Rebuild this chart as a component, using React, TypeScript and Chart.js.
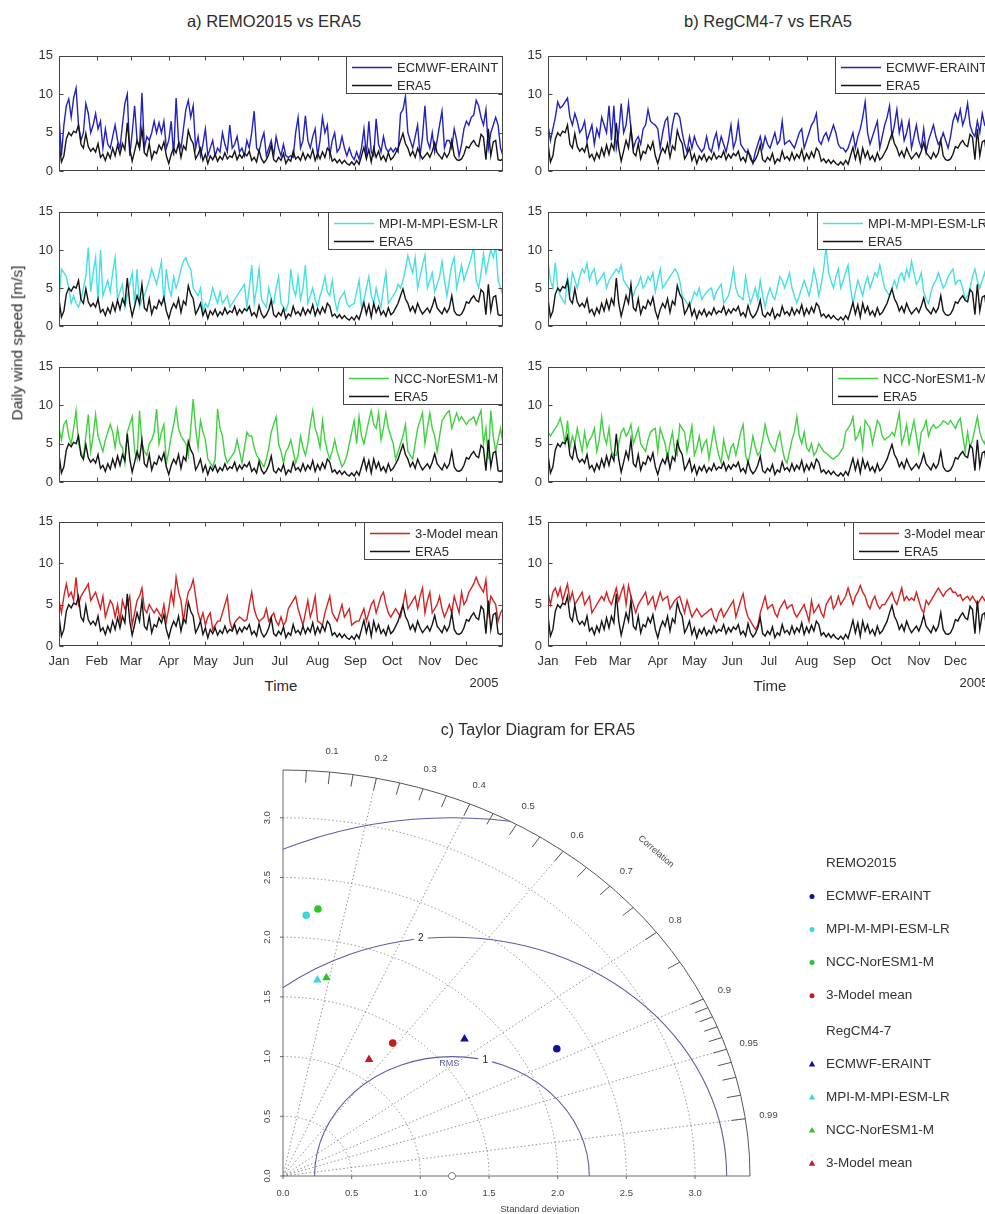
import React, { useEffect, useRef } from "react";
import { Chart, registerables } from "chart.js";

Chart.register(...registerables);

const FONT = '"Liberation Sans", Arial, Helvetica, sans-serif';

// ---- time axis (2005) ----
const MONTHS = ["Jan", "Feb", "Mar", "Apr", "May", "Jun", "Jul", "Aug", "Sep", "Oct", "Nov", "Dec"];
const MONTH_START_DAY = [0, 31, 59, 90, 120, 151, 181, 212, 243, 273, 304, 334];
const YEAR_LABEL = "2005";
const DAY_STEP = 2; // one value every second day of the year
const WIND_TICKS = [0, 5, 10, 15];

// ---- daily wind speed [m/s] ----
const ERA5 = [
  3.6, 1.2, 2.0, 4.2, 5.0, 4.6, 5.2, 5.0, 6.0, 3.5,
  3.0, 4.9, 3.2, 2.6, 3.0, 2.5, 3.6, 1.8, 2.2, 1.4,
  2.4, 1.7, 3.0, 2.0, 3.4, 2.2, 3.6, 2.8, 6.3, 3.0,
  1.3, 2.6, 4.0, 3.0, 5.5, 2.4, 2.0, 3.6, 1.6, 2.6,
  2.3, 3.4, 2.8, 3.8, 2.0, 1.0, 2.2, 3.0, 2.4, 3.6,
  1.8, 3.3, 2.8, 5.3, 4.2, 3.6, 1.6, 2.2, 3.0, 1.4,
  2.2, 1.0, 2.0, 1.5, 2.2, 1.3, 1.9, 1.5, 2.4, 1.6,
  2.0, 1.8, 2.6, 1.5, 2.2, 1.7, 2.3, 2.0, 2.6, 1.4,
  1.8, 1.2, 2.7, 1.6, 1.1, 1.5, 2.2, 3.4, 1.5, 1.2,
  1.8, 1.4, 2.3, 1.0, 1.6, 1.3, 2.6, 1.6, 1.9, 1.4,
  2.4, 1.5, 2.2, 1.7, 2.8, 1.4, 2.3, 1.6, 2.5, 1.8,
  3.0, 2.6, 1.3, 1.6, 1.1, 1.5, 1.0, 1.4, 1.0, 0.8,
  1.2, 0.8, 1.4, 0.9, 2.0, 3.1, 1.6, 2.8, 1.2, 3.0,
  1.8, 2.6, 1.5, 2.0, 1.3, 2.4, 1.5, 1.8, 2.4, 3.0,
  4.0, 4.9, 3.6, 3.0, 2.0, 2.6, 1.8, 3.0, 2.2, 1.6,
  2.0, 2.4, 1.8, 2.6, 3.7, 2.4, 2.0, 1.6, 2.4, 1.8,
  2.4, 4.0, 2.0, 1.5, 1.4, 1.6, 2.2, 3.2, 3.0, 3.6,
  4.0, 3.4, 3.2, 4.8, 4.4, 1.5, 5.5, 2.0, 3.8, 4.0,
  1.5, 1.4, 1.6,
];

const REMO_ECMWF = [
  7.2, 2.0, 6.0, 8.5, 9.4, 7.0, 9.5, 10.8, 6.0, 4.0,
  5.0, 8.8, 7.5, 5.0, 6.0, 7.5, 5.5, 6.5, 3.0, 5.5,
  3.5, 3.0, 4.5, 6.0, 4.0, 3.0, 6.0, 8.8, 10.0, 2.0,
  5.0, 8.5, 4.0, 3.0, 10.2, 3.0, 4.5, 4.0, 5.0, 6.5,
  5.0, 6.3, 5.0, 6.5, 3.0, 4.0, 6.5, 2.0, 9.5, 4.0,
  3.0, 5.5, 8.0, 9.2, 7.0, 8.5, 3.0, 4.5, 2.0, 3.5,
  5.5, 2.0, 3.0, 4.0, 2.0, 3.0, 2.5, 5.0, 3.5, 2.5,
  6.0, 3.0, 3.5, 4.5, 2.5, 3.0, 2.0, 4.0, 3.0, 5.0,
  7.8, 3.0, 2.5, 4.0, 5.0, 2.0, 3.0, 4.0, 2.0, 4.5,
  3.0, 2.0, 3.5, 2.0, 1.8, 2.0, 1.8, 5.0, 7.0, 3.0,
  4.0, 7.2, 4.0, 3.0, 4.5, 5.5, 2.0, 4.0, 7.0, 5.0,
  6.0, 2.0, 4.0, 5.0, 2.5, 3.0, 4.5, 3.0, 2.0, 3.0,
  2.0, 1.5, 2.5, 1.6, 3.0, 5.5, 2.0, 6.5, 2.5, 2.0,
  6.8, 3.5, 2.5, 4.5, 3.0, 2.5, 3.0, 2.5, 3.0, 2.5,
  7.5, 8.0, 9.7, 5.0, 4.0, 3.0, 4.5, 6.0, 2.0, 4.5,
  8.5, 4.0, 3.0, 5.0, 2.5, 4.0, 6.0, 7.8, 3.0, 4.0,
  4.0, 3.0, 5.5, 4.0, 2.0, 3.5, 5.5, 6.5, 6.0, 7.0,
  7.3, 9.2, 8.5, 7.0, 6.0, 8.0, 3.0, 5.0, 6.0, 7.0,
  6.0, 3.0, 2.0,
];

const REMO_MPI = [
  3.5, 7.5, 7.0, 6.5, 5.0, 3.0, 4.0, 3.0, 2.5, 3.5,
  5.0, 6.5, 10.3, 4.5, 7.0, 9.0, 3.0, 10.0, 4.0, 5.0,
  6.0, 4.5, 7.0, 9.0, 3.5, 4.5, 5.5, 2.5, 4.0, 5.5,
  7.0, 3.0, 7.5, 2.5, 3.5, 4.0, 5.0, 6.0, 7.5, 6.5,
  5.5, 7.0, 8.5, 3.0, 7.5, 5.0, 4.0, 6.5, 5.0, 6.0,
  7.5, 8.5, 9.0, 8.0, 7.5, 5.0, 4.5, 4.0, 5.0, 2.0,
  3.0, 2.5, 3.5, 5.0, 4.0, 3.0, 4.5, 3.0, 3.5, 4.0,
  2.5, 3.0, 3.5, 4.0, 4.5, 5.0, 5.5, 2.5, 5.0, 8.0,
  3.0, 5.0, 7.5, 3.5, 3.0, 2.5, 5.0, 3.5, 3.0, 5.0,
  6.5, 3.0, 2.5, 2.0, 3.0, 7.5, 5.0, 4.0, 6.5, 3.5,
  5.0, 8.0, 3.0, 4.0, 5.0, 3.5, 2.5, 4.0, 5.0, 6.5,
  4.5, 4.0, 6.0, 3.5, 2.0, 3.5, 4.0, 4.5, 3.0, 2.5,
  2.8, 3.0, 4.5, 6.0, 2.5, 3.5, 5.0, 6.5, 4.0, 3.0,
  5.0, 3.5, 2.5, 5.0, 7.0, 3.0, 3.5, 4.0, 4.5, 5.5,
  5.0, 6.0, 7.5, 9.3, 8.0, 7.0, 9.0, 5.0, 6.5, 8.0,
  9.3, 5.0, 6.0, 7.0, 4.5, 5.5, 6.5, 8.5, 6.0, 4.0,
  6.0, 8.0, 9.0, 5.0, 6.5, 8.0, 6.0, 7.0, 8.0, 9.0,
  10.5, 6.0, 5.0, 7.0, 9.5, 7.0, 8.5, 10.0, 9.0, 10.5,
  6.0, 5.0, 4.0,
];

const REMO_NCC = [
  7.0, 5.5, 7.5, 8.0, 6.0, 5.0, 7.0, 9.3, 5.0, 4.0,
  3.0, 6.0, 8.8, 4.0, 6.0, 8.8, 6.0, 5.0, 4.0, 5.5,
  6.5, 7.5, 6.5, 4.5, 7.0, 5.0, 4.5, 2.5, 6.5, 7.5,
  8.5, 4.0, 3.0, 9.3, 5.0, 4.0, 3.5, 5.0, 5.5, 6.5,
  9.5, 5.0, 6.5, 7.5, 2.5, 4.0, 6.0, 7.5, 9.5, 7.0,
  6.0, 5.5, 5.0, 3.5, 7.0, 10.8, 7.0, 4.5, 8.0, 6.5,
  5.5, 3.0, 2.5, 2.0, 3.0, 9.5, 7.0, 6.0, 3.5, 2.5,
  3.0, 3.5, 4.0, 5.5, 4.0, 2.5, 4.5, 6.5, 6.0, 6.0,
  4.5, 3.5, 3.0, 2.5, 2.0, 3.0, 4.5, 6.5, 7.5, 8.5,
  5.0, 4.0, 2.5, 4.0, 4.5, 5.5, 4.0, 2.5, 3.5, 6.0,
  4.5, 3.5, 5.0, 7.5, 9.3, 7.0, 6.0, 4.5, 8.0, 5.5,
  4.0, 3.0, 4.0, 5.5, 4.0, 3.0, 2.0, 2.5, 3.5, 5.0,
  6.5, 8.0, 5.0, 8.5, 6.0, 5.0, 6.5, 8.0, 9.3, 7.5,
  7.0, 9.0, 5.5, 7.0, 9.0, 7.0, 6.0, 5.0, 3.0, 4.0,
  5.0, 6.0, 7.5, 4.0, 3.5, 3.0, 5.0, 7.0, 8.0, 9.0,
  5.0, 7.0, 9.0, 7.0, 6.0, 4.0, 6.0, 8.0, 8.5, 9.0,
  9.3, 7.0, 8.0, 9.0, 8.0, 8.5, 8.0, 7.5, 8.0, 8.2,
  8.5, 7.5, 8.5, 9.3, 5.0, 7.0, 3.0, 9.3, 6.0, 4.0,
  5.5, 7.0, 5.0,
];

const REMO_MEAN = [
  5.5, 4.0, 6.0, 7.5, 6.0, 6.5, 5.5, 8.3, 5.0, 6.0,
  6.5, 7.0, 7.5, 5.5, 6.0, 6.5, 5.5, 4.5, 6.0, 3.5,
  4.5, 5.5, 5.0, 3.5, 5.0, 3.0, 5.5, 4.5, 5.0, 6.0,
  2.5, 4.0, 5.5, 6.0, 7.0, 4.5, 4.0, 5.0, 4.5, 4.0,
  4.5, 4.0, 3.5, 5.0, 3.0, 4.5, 6.5, 5.0, 8.3, 6.5,
  5.5, 3.0, 5.0, 6.5, 7.0, 8.0, 6.0, 4.0, 3.0, 4.0,
  2.5, 3.5, 4.0, 2.0, 2.5, 3.0, 3.0, 4.0, 5.0, 6.0,
  3.0, 2.0, 2.8, 3.2, 3.5, 3.3, 3.0, 3.2, 5.0, 6.5,
  4.5, 3.5, 3.0, 3.2, 3.5, 4.5, 3.0, 3.5, 4.0, 3.0,
  2.5, 3.5, 2.5, 3.0, 4.5, 5.0, 5.5, 6.0, 4.5, 3.5,
  2.5, 4.0, 5.5, 3.5, 4.5, 6.0, 3.0, 2.8, 2.5, 4.0,
  5.0, 6.0, 4.0, 3.5, 3.0, 4.0, 5.0, 3.5, 4.0, 4.5,
  2.5, 2.8, 3.0, 3.0, 3.8, 4.5, 3.0, 4.0, 5.0, 5.5,
  4.0, 5.0, 6.0, 6.5, 5.0, 4.0, 3.5, 4.0, 4.5, 4.0,
  3.5, 5.0, 6.5, 4.5, 5.0, 5.5, 6.0, 4.5, 6.0, 7.0,
  4.0, 5.5, 6.5, 4.0, 4.5, 5.0, 6.0, 4.5, 3.5, 4.2,
  5.0, 4.0, 6.0, 5.0, 4.0, 6.5, 5.0, 5.5, 6.5, 7.0,
  7.5, 8.3, 7.5, 7.0, 6.5, 8.0, 4.0, 6.0, 5.5, 5.0,
  3.0, 4.0, 4.5,
];

const REGCM_ECMWF = [
  6.0, 4.0, 5.5, 7.0, 9.0, 8.2, 8.5, 9.0, 9.5, 7.0,
  6.0, 7.5, 6.5, 5.0, 5.5, 6.5, 4.0, 5.0, 6.0, 3.5,
  5.5, 4.5, 7.0, 6.0, 5.0, 8.5, 4.0, 8.5, 3.0, 5.0,
  8.8, 5.0, 6.0, 8.8, 5.5, 3.0, 4.0, 4.5, 3.5, 5.5,
  6.0, 8.0, 6.5, 6.2, 6.0, 5.5, 3.0, 5.0, 6.5, 7.0,
  3.5, 6.0, 7.5, 7.5, 7.0, 5.0, 3.5, 2.5, 4.5, 3.0,
  4.5, 3.5, 3.0, 2.5, 3.0, 4.5, 3.0, 2.5, 4.0, 5.0,
  3.0, 4.5, 3.5, 2.5, 4.0, 6.0, 3.0, 4.0, 6.3, 3.5,
  3.0, 2.5, 2.5, 2.0, 1.0, 2.5, 3.5, 4.5, 3.0, 4.5,
  3.5, 3.0, 4.0, 5.0, 3.5, 4.0, 6.5, 3.5, 3.8, 4.0,
  3.5, 3.0, 4.0, 5.0, 5.5, 3.0, 4.0, 5.0, 6.0, 6.5,
  7.5, 4.0, 3.5, 4.5, 5.0, 4.0, 5.0, 6.0, 5.0, 3.5,
  3.0, 3.0, 2.5, 3.0, 4.0, 5.0, 3.0, 4.5, 5.5, 7.0,
  9.0, 5.0, 3.5, 4.5, 5.5, 6.5, 3.0, 4.5, 6.0, 7.0,
  8.5, 4.5, 6.0, 8.0, 5.0, 6.5, 4.0, 5.0, 6.5, 3.0,
  4.5, 6.0, 4.0, 3.0, 5.5, 2.5, 4.0, 5.0, 6.0, 4.5,
  3.5, 4.0, 5.0, 4.0, 3.0, 4.5, 6.5, 7.5, 6.5, 8.0,
  6.0, 7.0, 8.8, 6.0, 5.0, 4.5, 6.5, 5.0, 7.5, 6.0,
  5.5, 7.0, 6.5,
];

const REGCM_MPI = [
  8.5, 6.0, 5.0, 8.3, 5.0, 4.0, 3.5, 3.0, 6.5, 4.5,
  7.0, 6.0, 5.0, 6.5, 7.5, 7.0, 8.2, 6.0, 7.0, 7.5,
  5.5, 6.0, 6.5, 7.0, 5.0, 6.0, 6.5, 7.0, 7.5, 7.0,
  8.0, 6.0, 5.5, 5.0, 4.5, 4.0, 5.0, 5.5, 6.5, 5.0,
  5.5, 6.5, 6.0, 7.0, 4.5, 6.0, 7.5, 5.0, 5.5, 6.0,
  6.5, 7.0, 7.5, 7.0, 6.0, 4.0, 3.5, 3.0, 2.5, 3.5,
  4.5, 4.0, 5.0, 3.5, 4.0, 4.5, 4.8, 5.0, 3.5, 4.5,
  5.0, 5.5, 3.0, 3.5, 4.0, 5.5, 7.5, 5.0, 4.0, 3.8,
  3.5, 6.5, 4.5, 3.0, 4.0, 5.0, 3.5, 6.0, 4.0, 2.5,
  4.0, 5.0, 4.0, 3.5, 5.0, 6.5, 6.0, 5.0, 6.0, 7.0,
  5.0, 4.0, 3.0, 4.0, 5.0, 6.0, 5.0, 4.0, 5.5, 7.5,
  6.0, 4.0, 5.5, 7.5, 10.5, 7.0, 6.0, 5.0, 6.5, 7.5,
  5.0, 6.0, 7.0, 8.0, 5.0, 3.0, 4.5, 6.0, 5.0, 4.0,
  5.5, 6.5, 5.0, 6.0, 7.0, 6.5, 8.0, 6.5, 5.0, 4.5,
  4.0, 5.0, 6.0, 5.0, 6.5, 7.0, 6.0, 7.5, 6.5, 8.5,
  7.0, 5.5, 6.0, 7.0, 4.5, 3.5, 3.0, 4.5, 5.5, 6.0,
  7.0, 6.0, 5.0, 5.5, 6.5, 7.0, 7.5, 5.5, 6.0, 6.0,
  5.0, 3.5, 4.0, 5.0, 6.5, 7.5, 6.0, 5.0, 6.0, 7.0,
  5.5, 4.5, 5.0,
];

const REGCM_NCC = [
  6.5, 6.0, 6.5, 7.0, 7.5, 8.3, 7.0, 5.0, 8.0, 4.5,
  6.0, 5.0, 7.0, 5.5, 4.0, 6.5, 4.5, 5.5, 6.0, 7.0,
  4.0, 5.5, 8.5, 6.0, 5.0, 7.0, 4.0, 3.5, 3.5, 5.0,
  6.5, 7.0, 6.0, 6.5, 7.5, 5.0, 6.0, 7.0, 5.0, 4.5,
  4.0, 5.5, 6.5, 6.8, 7.0, 4.0, 7.0, 6.0, 5.0, 3.0,
  5.0, 6.5, 4.0, 3.5, 7.5, 7.0, 6.5, 4.0, 5.5, 7.3,
  3.5, 4.5, 6.0, 4.0, 5.0, 5.5, 3.0, 5.0, 7.0, 5.0,
  3.5, 2.5, 5.5, 4.0, 3.0, 4.5, 5.0, 3.5, 5.0, 6.5,
  7.5, 3.5, 2.5, 4.0, 6.0, 4.5, 3.5, 4.0, 5.5, 7.5,
  6.0, 5.0, 4.5, 4.0, 5.5, 6.5, 4.5, 3.0, 2.5, 4.0,
  5.5, 6.5, 8.5, 6.0, 5.0, 6.5, 4.5, 4.0, 5.0, 3.5,
  4.0, 5.0, 4.5, 4.0, 3.8, 3.5, 3.2, 3.0, 3.3, 3.5,
  4.0, 4.5, 6.5, 7.0, 7.5, 8.5, 5.5, 6.0, 7.0, 4.5,
  8.0, 7.5, 7.0, 5.0, 6.5, 8.0, 7.5, 6.0, 5.5, 5.8,
  6.0, 6.5, 6.0, 7.5, 9.0, 5.0, 6.0, 7.5, 5.0, 6.5,
  8.0, 6.0, 4.0, 6.5, 7.0, 8.0, 6.0, 7.0, 7.5, 7.0,
  7.2, 7.5, 8.0, 7.8, 7.5, 8.0, 7.5, 7.0, 7.8, 8.3,
  6.0, 4.0, 6.5, 4.5, 5.5, 7.0, 8.5, 6.5, 5.5, 5.0,
  6.5, 7.0, 6.5,
];

const REGCM_MEAN = [
  6.5, 5.0, 6.5, 7.0, 6.0, 7.0, 5.5, 6.5, 7.5, 5.5,
  6.5, 5.0, 5.5, 6.0, 6.5, 5.0, 5.5, 6.0, 4.0, 4.5,
  5.0, 5.5, 6.0, 5.5, 6.5, 5.5, 5.0, 6.0, 7.0, 5.5,
  6.5, 7.3, 5.0, 7.3, 6.0, 5.0, 4.0, 5.0, 5.5, 6.0,
  6.5, 5.0, 5.5, 6.0, 4.5, 5.5, 6.5, 5.5, 5.8, 6.0,
  4.5, 5.0, 5.5, 5.8, 6.0, 5.0, 4.0, 5.5, 4.5, 3.5,
  4.0, 4.5, 4.0, 3.5, 3.8, 4.0, 4.3, 4.5, 3.5, 3.0,
  4.0, 4.5, 3.5, 4.0, 4.5, 5.0, 5.5, 3.5, 4.5, 5.5,
  6.3, 4.5, 3.5, 3.0, 2.5, 2.0, 2.5, 4.0, 5.0, 6.0,
  4.5, 4.8, 5.0, 4.0, 3.5, 4.5, 5.0, 5.5, 4.5, 4.8,
  5.0, 4.0, 3.5, 4.0, 4.5, 5.0, 4.0, 3.0, 5.5, 4.0,
  4.5, 5.0, 4.0, 3.5, 5.0, 5.5, 6.0, 4.5, 5.0, 6.0,
  5.0, 5.5, 6.0, 7.0, 6.0, 5.0, 6.0, 6.5, 7.3, 6.5,
  6.0, 5.0, 4.5, 5.5, 6.0, 5.0, 4.5, 5.0, 5.0, 5.5,
  6.0, 6.5, 5.5, 5.0, 6.0, 7.0, 5.5, 6.0, 5.5, 5.8,
  5.5, 6.5, 5.5, 4.5, 4.0, 5.5, 5.0, 5.5, 6.0, 6.5,
  7.0, 6.5, 6.0, 6.5, 6.8, 7.0, 6.5, 6.5, 6.0, 6.2,
  5.5, 5.8, 6.0, 5.5, 6.0, 5.5, 5.0, 5.5, 6.0, 5.5,
  6.0, 5.5, 5.0,
];

// ---- model names / groups ----
const RCM_NAMES = ["REMO2015", "RegCM4-7"];
const REFERENCE_NAME = "ERA5";
const MODEL_NAMES = ["ECMWF-ERAINT", "MPI-M-MPI-ESM-LR", "NCC-NorESM1-M", "3-Model mean"];
const REMO_SERIES = [REMO_ECMWF, REMO_MPI, REMO_NCC, REMO_MEAN];
const REGCM_SERIES = [REGCM_ECMWF, REGCM_MPI, REGCM_NCC, REGCM_MEAN];

// ---- Taylor statistics (standard deviation [m/s], correlation with ERA5) ----
const REF_SD = 1.23;
const REMO_SD = [2.26, 2.19, 2.25, 1.37];
const REMO_CORR = [0.882, 0.077, 0.113, 0.583];
const REGCM_SD = [1.75, 1.66, 1.69, 1.16];
const REGCM_CORR = [0.755, 0.151, 0.187, 0.54];
const SD_MAX = 3.4;
const SD_ARCS = [0.5, 1, 1.5, 2, 2.5, 3];
const SD_TICKS = [0, 0.5, 1, 1.5, 2, 2.5, 3];
const RMS_ARCS = [1, 2, 3];
const CORR_RAYS = [0.2, 0.4, 0.6, 0.8, 0.9, 0.95, 0.99];
const CORR_LABELS = [0.1, 0.2, 0.3, 0.4, 0.5, 0.6, 0.7, 0.8, 0.9, 0.95, 0.99];
const CORR_TICKS = [
  0.05, 0.1, 0.15, 0.2, 0.25, 0.3, 0.35, 0.4, 0.45, 0.5, 0.55, 0.6, 0.65, 0.7,
  0.75, 0.8, 0.85, 0.9, 0.91, 0.92, 0.93, 0.94, 0.95, 0.96, 0.97, 0.98, 0.99,
];

// ---- styling ----
const LINE_COLORS = ["#2222bf", "#45e0e2", "#3fd13f", "#d42323"];
const MARKER_COLORS = ["#10109e", "#3ad6dc", "#2fc42f", "#c41d1d"];
const ERA5_COLOR = "#141414";
const AXIS_COLOR = "#444";
const TEXT_COLOR = "#2b2b2b";
const RMS_COLOR = "#5a5e9e";
const GRID_COLOR = "#808080";
const SERIES_LINE_W = 1.4;

// panel layout (px)
const PANEL_TOPS = [52, 208, 363, 518];
const PANEL_HEIGHTS = [129, 128, 129, 128];
const COLUMN_LEFTS = [0, 489];
const AXIS_W = 59;
const PLOT_W = 444;
const PAD = 10;

const framePlugin = {
  id: "panelFrame",
  afterDatasetsDraw(chart: any) {
    const { ctx, chartArea: a, scales } = chart;
    const x = scales.x;
    const y = scales.y;
    const L = Math.round(a.left) + 0.5;
    const R = Math.round(a.right) - 0.5;
    const T = Math.round(a.top) + 0.5;
    const B = Math.round(a.bottom) - 0.5;
    ctx.save();
    ctx.strokeStyle = AXIS_COLOR;
    ctx.lineWidth = 1;
    ctx.strokeRect(L, T, R - L, B - T);
    ctx.beginPath();
    for (const d of MONTH_START_DAY) {
      const px = Math.round(x.getPixelForValue(d)) + 0.5;
      ctx.moveTo(px, B);
      ctx.lineTo(px, B - 4);
      ctx.moveTo(px, T);
      ctx.lineTo(px, T + 4);
    }
    for (const v of WIND_TICKS) {
      const py = Math.round(y.getPixelForValue(v)) + 0.5;
      ctx.moveTo(L, py);
      ctx.lineTo(L + 4, py);
      ctx.moveTo(R, py);
      ctx.lineTo(R - 4, py);
    }
    ctx.stroke();
    ctx.restore();
  },
};

const panelLegendPlugin = {
  id: "panelLegend",
  afterDatasetsDraw(chart: any) {
    const { ctx, chartArea: a } = chart;
    const items = chart.data.datasets.slice().reverse();
    ctx.save();
    ctx.font = `13px ${FONT}`;
    const tw = Math.max(...items.map((d: any) => ctx.measureText(d.label).width));
    const w = Math.round(51 + tw + 5);
    const h = 38;
    const right = Math.round(a.right);
    const top = Math.round(a.top);
    const left = right - w;
    ctx.fillStyle = "#fff";
    ctx.fillRect(left, top, w, h);
    ctx.strokeStyle = AXIS_COLOR;
    ctx.lineWidth = 1;
    ctx.strokeRect(left + 0.5, top + 0.5, w - 1, h - 1);
    items.forEach((d: any, i: number) => {
      const yy = top + 11.5 + i * 18;
      ctx.strokeStyle = d.borderColor;
      ctx.lineWidth = SERIES_LINE_W;
      ctx.beginPath();
      ctx.moveTo(left + 6, yy);
      ctx.lineTo(left + 46, yy);
      ctx.stroke();
      ctx.fillStyle = TEXT_COLOR;
      ctx.textAlign = "left";
      ctx.textBaseline = "middle";
      ctx.fillText(d.label, left + 51, yy + 0.5);
    });
    ctx.restore();
  },
};

function toPoints(values: number[]) {
  return values.map((v, i) => ({ x: i * DAY_STEP, y: v }));
}

function makeSeriesChart(canvas: HTMLCanvasElement, series: number[], model: number, showMonths: boolean) {
  return new Chart(canvas, {
    type: "line",
    data: {
      datasets: [
        {
          label: REFERENCE_NAME,
          data: toPoints(ERA5),
          borderColor: ERA5_COLOR,
          borderWidth: SERIES_LINE_W,
          pointRadius: 0,
          tension: 0,
        },
        {
          label: MODEL_NAMES[model],
          data: toPoints(series),
          borderColor: LINE_COLORS[model],
          borderWidth: SERIES_LINE_W,
          pointRadius: 0,
          tension: 0,
        },
      ],
    },
    options: {
      animation: false,
      responsive: false,
      events: [],
      layout: { padding: { top: PAD, right: PAD, left: 0, bottom: 0 } },
      plugins: { legend: { display: false }, tooltip: { enabled: false } },
      scales: {
        x: {
          type: "linear",
          min: 0,
          max: 364,
          grid: { display: false, drawTicks: false },
          border: { display: false },
          afterBuildTicks: (s: any) => {
            s.ticks = MONTH_START_DAY.map((v) => ({ value: v }));
          },
          afterFit: (s: any) => {
            s.height = showMonths ? 30 : 4;
          },
          ticks: {
            display: showMonths,
            autoSkip: false,
            maxRotation: 0,
            minRotation: 0,
            padding: 8,
            color: "#333",
            font: { family: FONT, size: 13 },
            callback: (v: any) => MONTHS[MONTH_START_DAY.indexOf(Number(v))] ?? "",
          },
        },
        y: {
          min: 0,
          max: 15,
          grid: { display: false, drawTicks: false },
          border: { display: false },
          afterBuildTicks: (s: any) => {
            s.ticks = WIND_TICKS.map((v) => ({ value: v }));
          },
          afterFit: (s: any) => {
            s.width = AXIS_W;
          },
          ticks: { padding: 6, color: "#333", font: { family: FONT, size: 13 } },
        },
      },
    } as any,
    plugins: [framePlugin, panelLegendPlugin],
  });
}

const taylorGridPlugin = {
  id: "taylorGrid",
  beforeDatasetsDraw(chart: any) {
    const { ctx, scales } = chart;
    const x = scales.x;
    const y = scales.y;
    const ox = x.getPixelForValue(0);
    const oy = y.getPixelForValue(0);
    const sx = x.getPixelForValue(1) - ox;
    const sy = oy - y.getPixelForValue(1);
    const px = (u: number) => x.getPixelForValue(u);
    const py = (v: number) => y.getPixelForValue(v);
    const polar = (r: number, c: number) => [px(r * c), py(r * Math.sqrt(Math.max(0, 1 - c * c)))];

    ctx.save();
    // standard deviation arcs and correlation rays (dotted)
    ctx.strokeStyle = GRID_COLOR;
    ctx.lineWidth = 0.9;
    ctx.setLineDash([1.4, 2.4]);
    for (const r of SD_ARCS) {
      ctx.beginPath();
      ctx.ellipse(ox, oy, r * sx, r * sy, 0, -Math.PI / 2, 0);
      ctx.stroke();
    }
    for (const c of CORR_RAYS) {
      const [ex, ey] = polar(SD_MAX, c);
      ctx.beginPath();
      ctx.moveTo(ox, oy);
      ctx.lineTo(ex, ey);
      ctx.stroke();
    }
    ctx.setLineDash([]);

    // centred RMS difference arcs around the reference
    const rx = px(REF_SD);
    ctx.save();
    ctx.beginPath();
    ctx.moveTo(ox, oy);
    ctx.ellipse(ox, oy, SD_MAX * sx, SD_MAX * sy, 0, -Math.PI / 2, 0);
    ctx.closePath();
    ctx.clip();
    ctx.strokeStyle = RMS_COLOR;
    ctx.lineWidth = 1.1;
    for (const r of RMS_ARCS) {
      ctx.beginPath();
      ctx.ellipse(rx, oy, r * sx, r * sy, 0, Math.PI, 2 * Math.PI);
      ctx.stroke();
    }
    ctx.restore();

    // RMS arc labels
    const rmsLabels: [number, number][] = [[RMS_ARCS[0], 76], [RMS_ARCS[1], 96.5]];
    ctx.font = `10px ${FONT}`;
    ctx.textAlign = "center";
    ctx.textBaseline = "middle";
    for (const [r, deg] of rmsLabels) {
      const t = (deg * Math.PI) / 180;
      const lx = rx + r * sx * Math.cos(t);
      const ly = oy - r * sy * Math.sin(t);
      ctx.fillStyle = "#fff";
      ctx.fillRect(lx - 7, ly - 6, 14, 12);
      ctx.fillStyle = "#222";
      ctx.fillText(String(r), lx, ly);
    }
    ctx.font = `9px ${FONT}`;
    ctx.fillStyle = RMS_COLOR;
    ctx.fillText("RMS", px(REF_SD - 0.02), py(0.945));

    // outer correlation arc and the two axes
    ctx.strokeStyle = "#555";
    ctx.lineWidth = 1;
    ctx.beginPath();
    ctx.ellipse(ox, oy, SD_MAX * sx, SD_MAX * sy, 0, -Math.PI / 2, 0);
    ctx.stroke();
    ctx.strokeStyle = "#6a6a6a";
    ctx.beginPath();
    ctx.moveTo(ox, py(SD_MAX));
    ctx.lineTo(ox, oy);
    ctx.lineTo(px(SD_MAX), oy);
    ctx.stroke();

    // correlation tick marks
    ctx.strokeStyle = "#555";
    ctx.beginPath();
    for (const c of CORR_TICKS) {
      const [ax, ay] = polar(SD_MAX, c);
      const [bx, by] = polar(SD_MAX * 0.97, c);
      ctx.moveTo(ax, ay);
      ctx.lineTo(bx, by);
    }
    ctx.stroke();

    // correlation labels
    ctx.font = `9.5px ${FONT}`;
    ctx.fillStyle = "#444";
    ctx.textAlign = "center";
    ctx.textBaseline = "middle";
    for (const c of CORR_LABELS) {
      const [lx, ly] = polar(SD_MAX * 1.05, c);
      ctx.fillText(String(c), lx, ly);
    }
    const cAng = Math.acos(0.707);
    const [cx, cy] = polar(SD_MAX * 1.13, 0.707);
    ctx.save();
    ctx.translate(cx, cy);
    ctx.rotate(Math.atan2(sy * Math.cos(cAng), sx * Math.sin(cAng)));
    ctx.font = `9px ${FONT}`;
    ctx.fillText("Correlation", 0, 0);
    ctx.restore();

    // standard deviation axes
    ctx.strokeStyle = "#6a6a6a";
    ctx.beginPath();
    for (const v of SD_TICKS) {
      const X = px(v);
      ctx.moveTo(X, oy);
      ctx.lineTo(X, oy + 3);
      const Y = py(v);
      ctx.moveTo(ox, Y);
      ctx.lineTo(ox - 3, Y);
    }
    ctx.stroke();
    ctx.font = `9.5px ${FONT}`;
    ctx.fillStyle = "#444";
    for (const v of SD_TICKS) {
      ctx.fillText(v.toFixed(1), px(v), oy + 17.5);
      ctx.save();
      ctx.translate(ox - 16, py(v));
      ctx.rotate(-Math.PI / 2);
      ctx.fillText(v.toFixed(1), 0, 0);
      ctx.restore();
    }
    ctx.fillText("Standard deviation", px(SD_MAX * 0.55), oy + 33);
    ctx.restore();
  },
  afterDraw(chart: any) {
    // group legend beside the diagram
    const { ctx, chartArea: a } = chart;
    const mx = a.right + 62;
    const tx = a.right + 76;
    const rowY = (k: number) => a.top + 93.3 + k * 33.1 + (k >= 5 ? 2.5 : 0);
    ctx.save();
    ctx.font = `13.5px ${FONT}`;
    ctx.textAlign = "left";
    ctx.textBaseline = "middle";
    let k = 0;
    RCM_NAMES.forEach((name, g) => {
      ctx.fillStyle = "#333";
      ctx.fillText(name, tx, rowY(k));
      k++;
      MODEL_NAMES.forEach((m, i) => {
        const yy = rowY(k);
        ctx.fillStyle = MARKER_COLORS[i];
        ctx.beginPath();
        if (g === 0) {
          ctx.arc(mx, yy, 2.5, 0, Math.PI * 2);
        } else {
          ctx.moveTo(mx, yy - 3.6);
          ctx.lineTo(mx + 3.2, yy + 2);
          ctx.lineTo(mx - 3.2, yy + 2);
          ctx.closePath();
        }
        ctx.fill();
        ctx.fillStyle = "#333";
        ctx.fillText(m, tx, yy);
        k++;
      });
    });
    ctx.restore();
  },
};

function taylorPoint(sd: number, corr: number) {
  return { x: sd * corr, y: sd * Math.sqrt(1 - corr * corr) };
}

function makeTaylorChart(canvas: HTMLCanvasElement) {
  const datasets: any[] = [];
  MODEL_NAMES.forEach((name, i) => {
    datasets.push({
      label: `${RCM_NAMES[0]} ${name}`,
      data: [taylorPoint(REMO_SD[i], REMO_CORR[i])],
      pointStyle: "circle",
      pointRadius: 3.8,
      backgroundColor: MARKER_COLORS[i],
      borderColor: MARKER_COLORS[i],
      borderWidth: 0,
      clip: false,
    });
  });
  MODEL_NAMES.forEach((name, i) => {
    datasets.push({
      label: `${RCM_NAMES[1]} ${name}`,
      data: [taylorPoint(REGCM_SD[i], REGCM_CORR[i])],
      pointStyle: "triangle",
      pointRadius: 5,
      backgroundColor: MARKER_COLORS[i],
      borderColor: MARKER_COLORS[i],
      borderWidth: 0,
      clip: false,
    });
  });
  datasets.push({
    label: REFERENCE_NAME,
    data: [{ x: REF_SD, y: 0 }],
    pointStyle: "circle",
    pointRadius: 3.5,
    backgroundColor: "#fff",
    borderColor: "#777",
    borderWidth: 1,
    clip: false,
  });
  return new Chart(canvas, {
    type: "scatter",
    data: { datasets },
    options: {
      animation: false,
      responsive: false,
      events: [],
      layout: { padding: { left: 83, top: 70, right: 235, bottom: 38 } },
      plugins: { legend: { display: false }, tooltip: { enabled: false } },
      scales: {
        x: { type: "linear", min: 0, max: SD_MAX, display: false },
        y: { type: "linear", min: 0, max: SD_MAX, display: false },
      },
    } as any,
    plugins: [taylorGridPlugin],
  });
}

const PANELS = [0, 1].flatMap((col) =>
  [0, 1, 2, 3].map((row) => ({
    col,
    row,
    series: col === 0 ? REMO_SERIES[row] : REGCM_SERIES[row],
  }))
);

function Txt({ x, y, size, rotate = 0, children, color = TEXT_COLOR }: any) {
  return (
    <div
      style={{
        position: "absolute",
        left: x,
        top: y,
        transform: `translate(-50%, -50%) rotate(${rotate}deg)`,
        fontSize: size,
        lineHeight: 1,
        whiteSpace: "nowrap",
        color,
        fontFamily: FONT,
      }}
    >
      {children}
    </div>
  );
}

export default function App() {
  const seriesRefs = useRef<(HTMLCanvasElement | null)[]>([]);
  const taylorRef = useRef<HTMLCanvasElement | null>(null);

  useEffect(() => {
    const charts: Chart[] = [];
    PANELS.forEach((p, k) => {
      const c = seriesRefs.current[k];
      if (c) charts.push(makeSeriesChart(c, p.series, p.row, p.row === 3));
    });
    if (taylorRef.current) charts.push(makeTaylorChart(taylorRef.current));
    return () => charts.forEach((c) => c.destroy());
  }, []);

  return (
    <div
      style={{
        position: "absolute",
        left: 0,
        top: 0,
        width: 985,
        height: 1214,
        overflow: "hidden",
        background: "#fff",
      }}
    >
      {PANELS.map((p, k) => {
        const h = PAD + PANEL_HEIGHTS[p.row] + (p.row === 3 ? 30 : 4);
        return (
          <canvas
            key={k}
            ref={(el) => {
              seriesRefs.current[k] = el;
            }}
            width={AXIS_W + PLOT_W + PAD}
            height={h}
            style={{ position: "absolute", left: COLUMN_LEFTS[p.col], top: PANEL_TOPS[p.row] - PAD }}
          />
        );
      })}
      <canvas
        ref={taylorRef}
        width={785}
        height={514}
        style={{ position: "absolute", left: 200, top: 700 }}
      />
      <Txt x={274} y={21} size={16.5}>{`a) ${RCM_NAMES[0]} vs ${REFERENCE_NAME}`}</Txt>
      <Txt x={768} y={21} size={16.5}>{`b) ${RCM_NAMES[1]} vs ${REFERENCE_NAME}`}</Txt>
      <Txt x={17} y={343} size={15.5} rotate={-90}>Daily wind speed [m/s]</Txt>
      <Txt x={281} y={685} size={15}>Time</Txt>
      <Txt x={770} y={685} size={15}>Time</Txt>
      <Txt x={484} y={682} size={13}>{YEAR_LABEL}</Txt>
      <Txt x={974} y={682} size={13}>{YEAR_LABEL}</Txt>
      <Txt x={538} y={730} size={16}>{`c) Taylor Diagram for ${REFERENCE_NAME}`}</Txt>
    </div>
  );
}
